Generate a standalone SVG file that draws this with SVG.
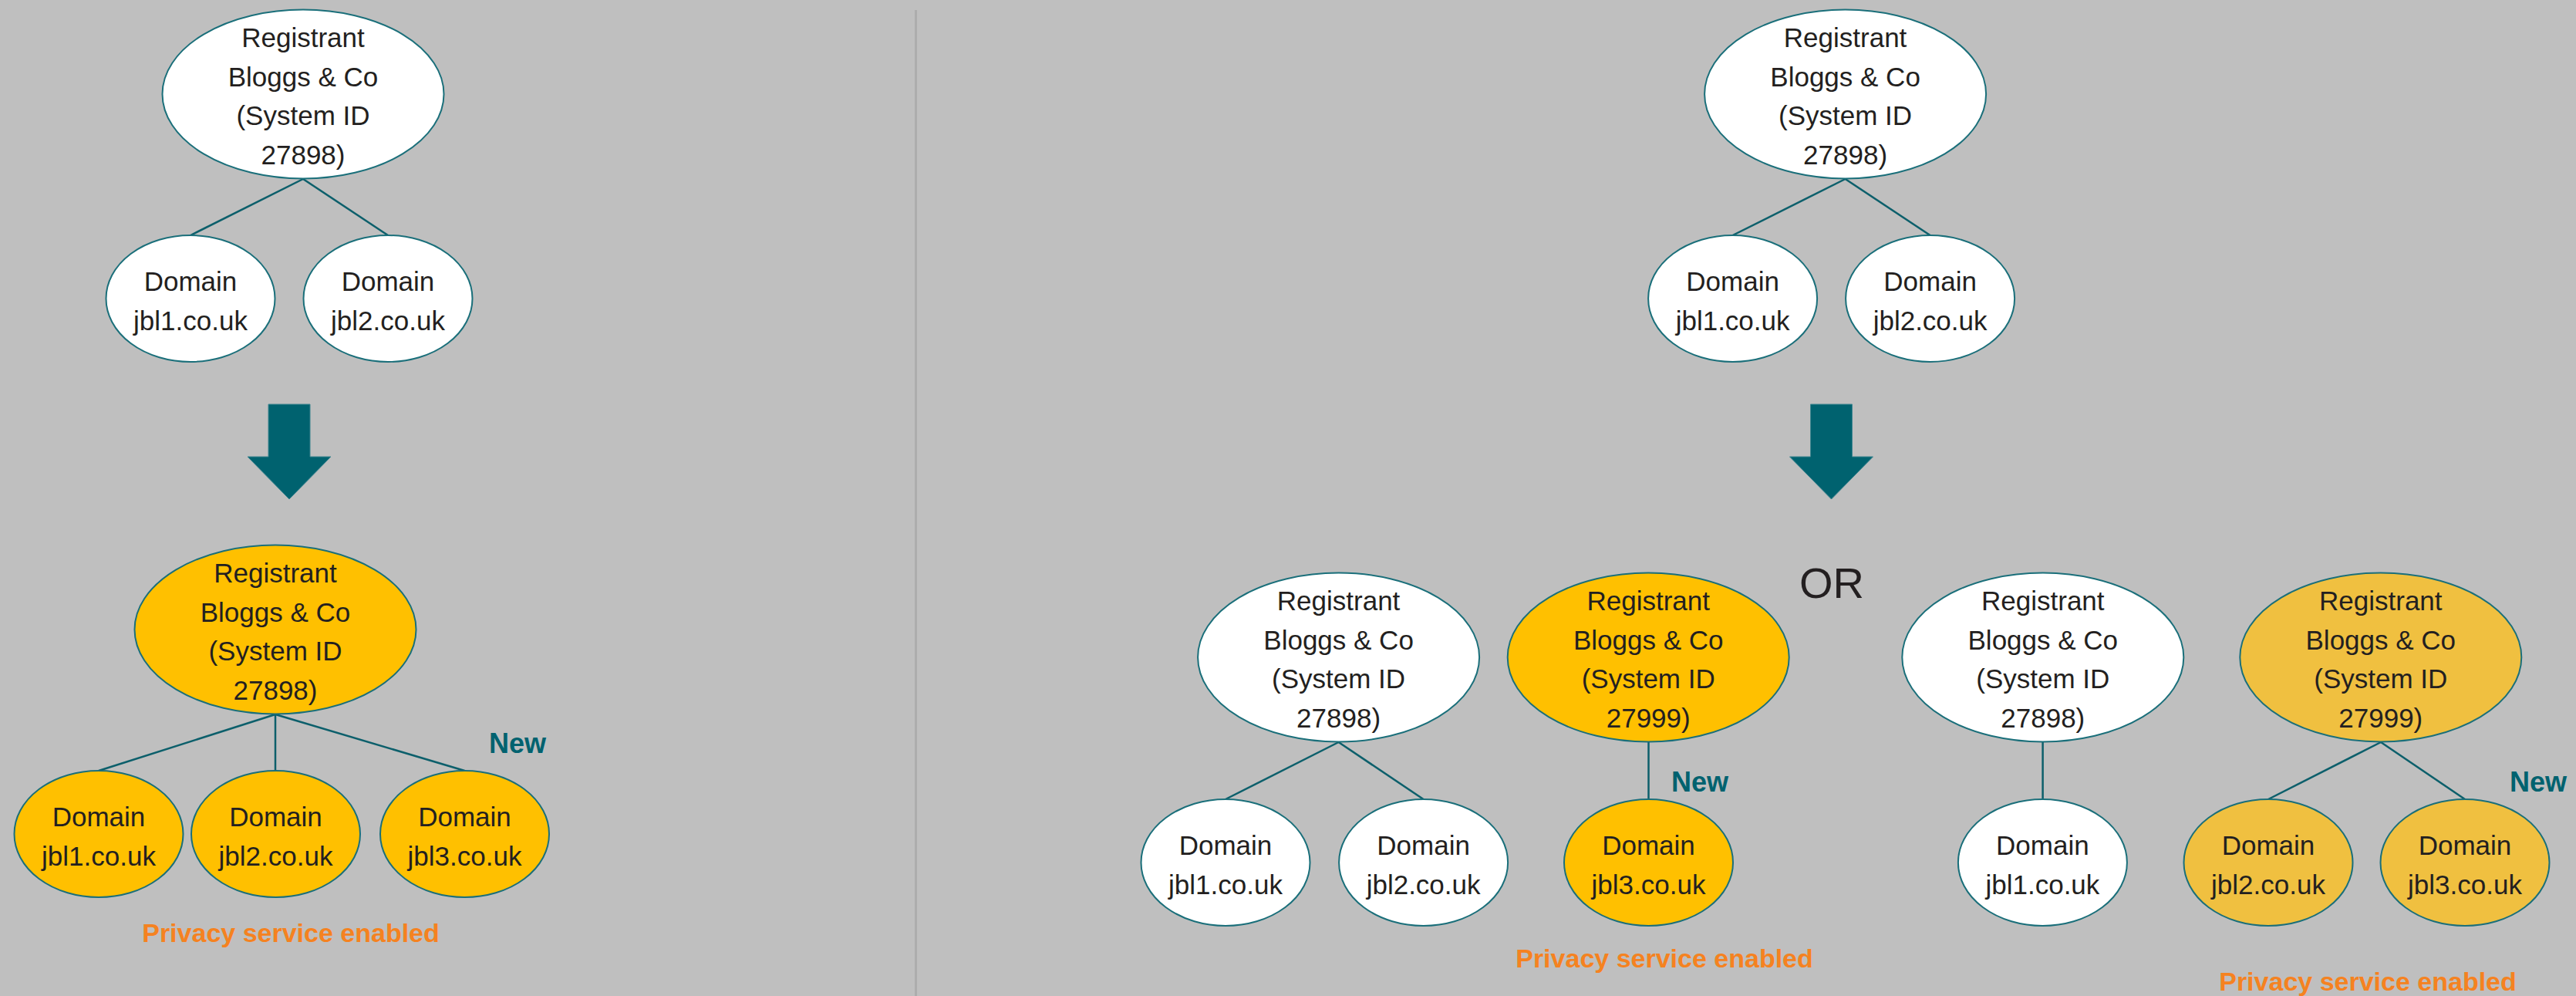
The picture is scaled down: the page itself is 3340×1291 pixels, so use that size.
<svg xmlns="http://www.w3.org/2000/svg" width="3340" height="1291" viewBox="0 0 3340 1291">
<style>
.bg{fill:#bfbfbf}
.n{stroke:#1a6f7a;stroke-width:2}
.w{fill:#ffffff}
.y{fill:#ffc000}
.y2{fill:#f0c040}
.t{font-family:"Liberation Sans",Arial,sans-serif;font-size:35px;fill:#231f20;text-anchor:middle}
.c{stroke:#0c5f6b;stroke-width:2.5;fill:none}
.new{font-family:"Liberation Sans",Arial,sans-serif;font-size:36px;font-weight:bold;fill:#00626f}
.pv{font-family:"Liberation Sans",Arial,sans-serif;font-size:34px;font-weight:bold;fill:#f58220;text-anchor:middle}
.arr{fill:#00626f;stroke:#3f8590;stroke-width:1}
.or{font-family:"Liberation Sans",Arial,sans-serif;font-size:56px;fill:#231f20;text-anchor:middle}
</style>
<rect class="bg" x="0" y="0" width="3340" height="1291"/>
<line x1="1187.5" y1="13" x2="1187.5" y2="1291" stroke="#adadad" stroke-width="3"/>

<g id="connectors">
<line class="c" x1="393" y1="232" x2="247" y2="305"/>
<line class="c" x1="393" y1="232" x2="503" y2="305"/>
<line class="c" x1="357" y1="926" x2="128" y2="999"/>
<line class="c" x1="357" y1="926" x2="357" y2="999"/>
<line class="c" x1="357" y1="926" x2="602.5" y2="999"/>
<line class="c" x1="2392.6" y1="232" x2="2246.6" y2="305"/>
<line class="c" x1="2392.6" y1="232" x2="2502.6" y2="305"/>
<line class="c" x1="1735.6" y1="962" x2="1589" y2="1036"/>
<line class="c" x1="1735.6" y1="962" x2="1845.6" y2="1036"/>
<line class="c" x1="2137.5" y1="962" x2="2137.5" y2="1036"/>
<line class="c" x1="2648.6" y1="962" x2="2648.6" y2="1036"/>
<line class="c" x1="3087" y1="962" x2="2941" y2="1036"/>
<line class="c" x1="3087" y1="962" x2="3196" y2="1036"/>
</g>

<g id="arrow-left"><polygon class="arr" points="348,524 402,524 402,592 429,592 375,647 321,592 348,592"/></g>
<g id="arrow-right"><polygon class="arr" points="2347.5,524 2401.5,524 2401.5,592 2428.5,592 2374.5,647 2320.5,592 2347.5,592"/></g>

<g id="reg-top-left">
<ellipse class="n w" cx="393" cy="122" rx="182.5" ry="109.5"/>
<text class="t" x="393" y="61">Registrant</text>
<text class="t" x="393" y="111.5">Bloggs &amp; Co</text>
<text class="t" x="393" y="162">(System ID</text>
<text class="t" x="393" y="212.5">27898)</text>
</g>
<g id="dom-top-left-1">
<ellipse class="n w" cx="247" cy="387" rx="109.5" ry="82"/>
<text class="t" x="247" y="377">Domain</text>
<text class="t" x="247" y="428">jbl1.co.uk</text>
</g>
<g id="dom-top-left-2">
<ellipse class="n w" cx="503" cy="387" rx="109.5" ry="82"/>
<text class="t" x="503" y="377">Domain</text>
<text class="t" x="503" y="428">jbl2.co.uk</text>
</g>

<g id="reg-bottom-left">
<ellipse class="n y" cx="357" cy="816" rx="182.5" ry="109.5"/>
<text class="t" x="357" y="755">Registrant</text>
<text class="t" x="357" y="805.5">Bloggs &amp; Co</text>
<text class="t" x="357" y="856">(System ID</text>
<text class="t" x="357" y="906.5">27898)</text>
</g>
<g id="dom-bottom-left-1">
<ellipse class="n y" cx="128" cy="1081" rx="109.5" ry="82"/>
<text class="t" x="128" y="1071">Domain</text>
<text class="t" x="128" y="1122">jbl1.co.uk</text>
</g>
<g id="dom-bottom-left-2">
<ellipse class="n y" cx="357.5" cy="1081" rx="109.5" ry="82"/>
<text class="t" x="357.5" y="1071">Domain</text>
<text class="t" x="357.5" y="1122">jbl2.co.uk</text>
</g>
<g id="dom-bottom-left-3">
<ellipse class="n y" cx="602.5" cy="1081" rx="109.5" ry="82"/>
<text class="t" x="602.5" y="1071">Domain</text>
<text class="t" x="602.5" y="1122">jbl3.co.uk</text>
</g>
<text class="new" x="634" y="976">New</text>
<text class="pv" x="377" y="1221">Privacy service enabled</text>

<g id="reg-top-right">
<ellipse class="n w" cx="2392.6" cy="122" rx="182.5" ry="109.5"/>
<text class="t" x="2392.6" y="61">Registrant</text>
<text class="t" x="2392.6" y="111.5">Bloggs &amp; Co</text>
<text class="t" x="2392.6" y="162">(System ID</text>
<text class="t" x="2392.6" y="212.5">27898)</text>
</g>
<g id="dom-top-right-1">
<ellipse class="n w" cx="2246.6" cy="387" rx="109.5" ry="82"/>
<text class="t" x="2246.6" y="377">Domain</text>
<text class="t" x="2246.6" y="428">jbl1.co.uk</text>
</g>
<g id="dom-top-right-2">
<ellipse class="n w" cx="2502.6" cy="387" rx="109.5" ry="82"/>
<text class="t" x="2502.6" y="377">Domain</text>
<text class="t" x="2502.6" y="428">jbl2.co.uk</text>
</g>

<text class="or" x="2375" y="775">OR</text>

<g id="opt1-reg-27898">
<ellipse class="n w" cx="1735.6" cy="852" rx="182.5" ry="109.5"/>
<text class="t" x="1735.6" y="791">Registrant</text>
<text class="t" x="1735.6" y="841.5">Bloggs &amp; Co</text>
<text class="t" x="1735.6" y="892">(System ID</text>
<text class="t" x="1735.6" y="942.5">27898)</text>
</g>
<g id="opt1-reg-27999">
<ellipse class="n y" cx="2137.2" cy="852" rx="182.5" ry="109.5"/>
<text class="t" x="2137.2" y="791">Registrant</text>
<text class="t" x="2137.2" y="841.5">Bloggs &amp; Co</text>
<text class="t" x="2137.2" y="892">(System ID</text>
<text class="t" x="2137.2" y="942.5">27999)</text>
</g>
<g id="opt1-dom-1">
<ellipse class="n w" cx="1589" cy="1118" rx="109.5" ry="82"/>
<text class="t" x="1589" y="1108">Domain</text>
<text class="t" x="1589" y="1159">jbl1.co.uk</text>
</g>
<g id="opt1-dom-2">
<ellipse class="n w" cx="1845.6" cy="1118" rx="109.5" ry="82"/>
<text class="t" x="1845.6" y="1108">Domain</text>
<text class="t" x="1845.6" y="1159">jbl2.co.uk</text>
</g>
<g id="opt1-dom-3">
<ellipse class="n y" cx="2137.5" cy="1118" rx="109.5" ry="82"/>
<text class="t" x="2137.5" y="1108">Domain</text>
<text class="t" x="2137.5" y="1159">jbl3.co.uk</text>
</g>
<text class="new" x="2167" y="1026">New</text>
<text class="pv" x="2158" y="1254">Privacy service enabled</text>

<g id="opt2-reg-27898">
<ellipse class="n w" cx="2648.8" cy="852" rx="182.5" ry="109.5"/>
<text class="t" x="2648.8" y="791">Registrant</text>
<text class="t" x="2648.8" y="841.5">Bloggs &amp; Co</text>
<text class="t" x="2648.8" y="892">(System ID</text>
<text class="t" x="2648.8" y="942.5">27898)</text>
</g>
<g id="opt2-reg-27999">
<ellipse class="n y2" cx="3086.8" cy="852" rx="182.5" ry="109.5"/>
<text class="t" x="3086.8" y="791">Registrant</text>
<text class="t" x="3086.8" y="841.5">Bloggs &amp; Co</text>
<text class="t" x="3086.8" y="892">(System ID</text>
<text class="t" x="3086.8" y="942.5">27999)</text>
</g>
<g id="opt2-dom-1">
<ellipse class="n w" cx="2648.4" cy="1118" rx="109.5" ry="82"/>
<text class="t" x="2648.4" y="1108">Domain</text>
<text class="t" x="2648.4" y="1159">jbl1.co.uk</text>
</g>
<g id="opt2-dom-2">
<ellipse class="n y2" cx="2941" cy="1118" rx="109.5" ry="82"/>
<text class="t" x="2941" y="1108">Domain</text>
<text class="t" x="2941" y="1159">jbl2.co.uk</text>
</g>
<g id="opt2-dom-3">
<ellipse class="n y2" cx="3196" cy="1118" rx="109.5" ry="82"/>
<text class="t" x="3196" y="1108">Domain</text>
<text class="t" x="3196" y="1159">jbl3.co.uk</text>
</g>
<text class="new" x="3254" y="1026">New</text>
<text class="pv" x="3070" y="1284">Privacy service enabled</text>
</svg>
